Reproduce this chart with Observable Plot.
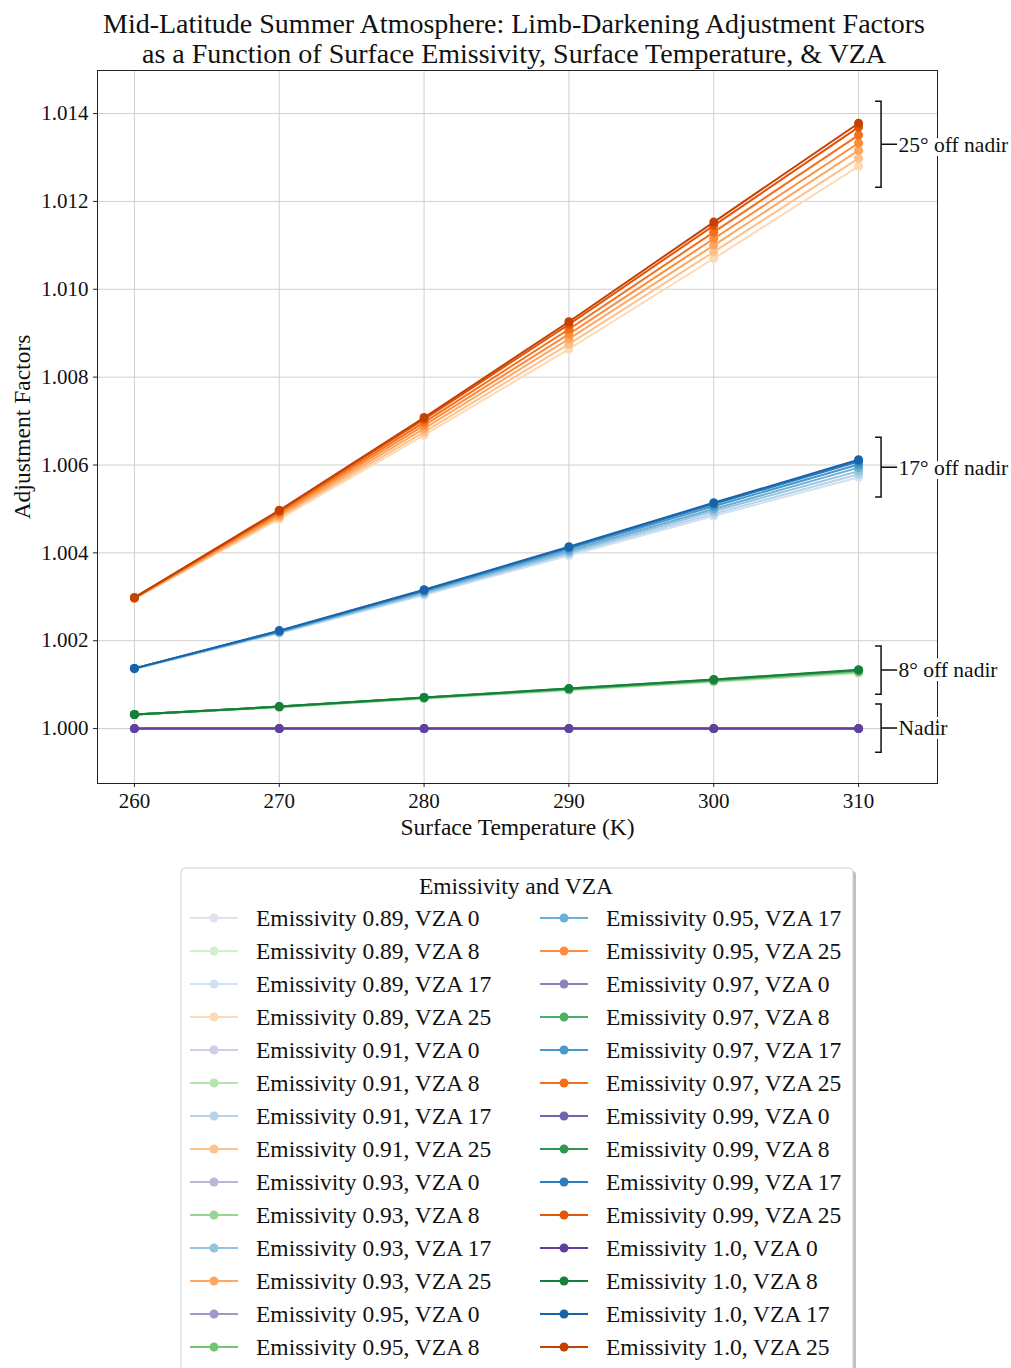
<!DOCTYPE html>
<html>
<head>
<meta charset="utf-8">
<script src="https://cdn.jsdelivr.net/npm/d3@7"></script>
<script src="https://cdn.jsdelivr.net/npm/@observablehq/plot@0.6"></script>
<style>
  html, body { margin: 0; padding: 0; background: #fff; }
  #page { position: relative; width: 1011px; height: 1368px; overflow: hidden; background: #fff;
          font-family: "Liberation Serif", "Times New Roman", serif; }
  #page svg { position: absolute; }
</style>
</head>
<body>
<div id="page"></div>
<script>
// ---------------- data ----------------
const titleLines = [
  "Mid-Latitude Summer Atmosphere: Limb-Darkening Adjustment Factors",
  "as a Function of Surface Emissivity, Surface Temperature, & VZA"
];
const xLabel = "Surface Temperature (K)";
const yLabel = "Adjustment Factors";
const legendTitle = "Emissivity and VZA";
const temperatures = [260, 270, 280, 290, 300, 310];
const emissivities = [0.89, 0.91, 0.93, 0.95, 0.97, 0.99, 1.0];
const emissivityLabels = ["0.89", "0.91", "0.93", "0.95", "0.97", "0.99", "1.0"];
const vzas = [0, 8, 17, 25];

// rows follow emissivities, columns follow temperatures
const vza0 = [
  [1.00000, 1.00000, 1.00000, 1.00000, 1.00000, 1.00000],
  [1.00000, 1.00000, 1.00000, 1.00000, 1.00000, 1.00000],
  [1.00000, 1.00000, 1.00000, 1.00000, 1.00000, 1.00000],
  [1.00000, 1.00000, 1.00000, 1.00000, 1.00000, 1.00000],
  [1.00000, 1.00000, 1.00000, 1.00000, 1.00000, 1.00000],
  [1.00000, 1.00000, 1.00000, 1.00000, 1.00000, 1.00000],
  [1.00000, 1.00000, 1.00000, 1.00000, 1.00000, 1.00000]
];
const vza8 = [
  [1.00031, 1.00048, 1.00068, 1.00087, 1.00106, 1.00126],
  [1.00032, 1.00049, 1.00069, 1.00088, 1.00107, 1.00127],
  [1.00032, 1.00049, 1.00069, 1.00089, 1.00108, 1.00129],
  [1.00032, 1.00049, 1.00070, 1.00089, 1.00109, 1.00130],
  [1.00032, 1.00050, 1.00070, 1.00090, 1.00110, 1.00132],
  [1.00032, 1.00050, 1.00071, 1.00091, 1.00111, 1.00133],
  [1.00032, 1.00050, 1.00071, 1.00091, 1.00112, 1.00134]
];
const vza17 = [
  [1.00136, 1.00217, 1.00304, 1.00394, 1.00484, 1.00572],
  [1.00136, 1.00218, 1.00306, 1.00398, 1.00489, 1.00579],
  [1.00136, 1.00219, 1.00308, 1.00401, 1.00495, 1.00586],
  [1.00137, 1.00220, 1.00311, 1.00405, 1.00500, 1.00594],
  [1.00137, 1.00221, 1.00313, 1.00409, 1.00506, 1.00601],
  [1.00137, 1.00222, 1.00315, 1.00412, 1.00511, 1.00608],
  [1.00137, 1.00223, 1.00316, 1.00414, 1.00514, 1.00612]
];
const vza25 = [
  [1.00296, 1.00477, 1.00668, 1.00864, 1.01070, 1.01280],
  [1.00296, 1.00481, 1.00675, 1.00875, 1.01085, 1.01298],
  [1.00297, 1.00484, 1.00683, 1.00887, 1.01100, 1.01316],
  [1.00297, 1.00488, 1.00690, 1.00898, 1.01115, 1.01333],
  [1.00298, 1.00492, 1.00697, 1.00909, 1.01130, 1.01351],
  [1.00298, 1.00495, 1.00704, 1.00920, 1.01145, 1.01369],
  [1.00298, 1.00497, 1.00708, 1.00926, 1.01153, 1.01378]
];
const valuesByVza = [vza0, vza8, vza17, vza25];

const xTicks = [260, 270, 280, 290, 300, 310];
const yTicks = [1.000, 1.002, 1.004, 1.006, 1.008, 1.010, 1.012, 1.014];

// bracket annotations (at the last temperature)
const annotationLabels = ["25° off nadir", "17° off nadir", "8° off nadir", "Nadir"];
const annotationCenters = [1.01329, 1.00594, 1.00132, 1.00000];
const annotationHalfSpans = [0.00098, 0.00068, 0.00055, 0.00055];

// ---------------- styles ----------------
const colormaps = [
  ["#fcfbfd","#efedf5","#dadaeb","#bcbddc","#9e9ac8","#807dba","#6a51a3","#54278f","#3f007d"], // Purples
  ["#f7fcf5","#e5f5e0","#c7e9c0","#a1d99b","#74c476","#41ab5d","#238b45","#006d2c","#00441b"], // Greens
  ["#f7fbff","#deebf7","#c6dbef","#9ecae1","#6baed6","#4292c6","#2171b5","#08519c","#08306b"], // Blues
  ["#fff5eb","#fee6ce","#fdd0a2","#fdae6b","#fd8d3c","#f16913","#d94801","#a63603","#7f2704"]  // Oranges
];
const shadePositions = [0.2, 0.3, 0.4, 0.5, 0.6, 0.7, 0.8];
const FONT = "'Liberation Serif', 'Times New Roman', serif";

// ---------------- build table ----------------
const series = [];
emissivities.forEach((e, ei) => {
  vzas.forEach((v, vi) => {
    const color = d3.piecewise(d3.interpolateRgb, colormaps[vi])(shadePositions[ei]);
    const label = `Emissivity ${emissivityLabels[ei]}, VZA ${v}`;
    const rows = temperatures.map((t, ti) => ({T: t, value: valuesByVza[vi][ei][ti], color, label}));
    series.push({label, color, rows});
  });
});
const annotations = annotationLabels.map((label, i) => ({
  label, x: temperatures[temperatures.length - 1], y: annotationCenters[i],
  lo: annotationCenters[i] - annotationHalfSpans[i], hi: annotationCenters[i] + annotationHalfSpans[i]
}));

const page = d3.select("#page");

// ---------------- title ----------------
const titleSvg = page.append("svg").attr("width", 1011).attr("height", 70)
  .style("left", "0px").style("top", "0px");
titleLines.forEach((t, i) => {
  titleSvg.append("text").attr("x", 514).attr("y", 33 + i * 30)
    .attr("text-anchor", "middle").attr("font-family", FONT).attr("font-size", 28)
    .attr("fill", "#111").text(t);
});

// ---------------- chart ----------------
function bracketMark(index, scales, values, dimensions, context) {
  const x = scales.x, y = scales.y;
  const g = d3.create("svg:g").attr("fill", "none").attr("stroke", "#111").attr("stroke-width", 1.5);
  for (const a of annotations) {
    const bx = x(a.x) + 23;
    const yt = y(a.hi), yb = y(a.lo), ym = y(a.y);
    g.append("path").attr("d", `M${bx - 6},${yt}H${bx}V${yb}H${bx - 6}M${bx},${ym}H${bx + 16}`);
  }
  return g.node();
}

const seriesMarks = series.flatMap(s => [
  Plot.line(s.rows, {x: "T", y: "value", stroke: "color", strokeWidth: 2}),
  Plot.dot(s.rows, {x: "T", y: "value", fill: "color", r: 4.5})
]);

const chart = Plot.plot({
  width: 1011,
  height: 790,
  marginLeft: 97,
  marginRight: 74,
  marginTop: 8,
  marginBottom: 69,
  style: {fontFamily: FONT, fontSize: "21px", background: "transparent", overflow: "visible", color: "#111"},
  x: {domain: [257.45, 315.45]},
  y: {domain: [0.99875, 1.01498]},
  color: {type: "identity"},
  marks: [
    Plot.gridX(xTicks, {stroke: "#cfcfcf", strokeOpacity: 1, strokeWidth: 1}),
    Plot.gridY(yTicks, {stroke: "#cfcfcf", strokeOpacity: 1, strokeWidth: 1}),
    Plot.frame({stroke: "#222", strokeWidth: 1}),
    Plot.axisX(xTicks, {tickFormat: d => String(d), tickSize: 4, tickPadding: 6, stroke: "#222",
      label: null, fontSize: 21}),
    Plot.axisY(yTicks, {tickFormat: d3.format(".3f"), tickSize: 4, tickPadding: 5, stroke: "#222",
      label: null, fontSize: 21}),
    Plot.text([xLabel], {frameAnchor: "bottom", text: d => d, dy: 51, lineAnchor: "bottom",
      textAnchor: "middle", fontSize: 23.5, fill: "#111"}),
    Plot.text([yLabel], {frameAnchor: "left", text: d => d, dx: -84, rotate: -90, lineAnchor: "top",
      textAnchor: "middle", fontSize: 23.5, fill: "#111"}),
    ...seriesMarks,
    Plot.text(annotations, {x: "x", y: "y", text: "label", dx: 40, textAnchor: "start",
      fill: "#111", stroke: "white", strokeWidth: 8, fontSize: 21.5}),
    bracketMark
  ]
});
d3.select(chart).style("left", "0px").style("top", "62px");
page.node().appendChild(chart);

// ---------------- legend ----------------
const legendSvg = page.append("svg").attr("width", 690).attr("height", 520)
  .style("left", "178px").style("top", "865px");
const L = {x: 3, y: 3, w: 672, h: 520};
legendSvg.append("rect").attr("x", L.x + 3).attr("y", L.y + 3).attr("width", L.w).attr("height", L.h)
  .attr("rx", 4).attr("fill", "#000").attr("fill-opacity", 0.25);
legendSvg.append("rect").attr("x", L.x).attr("y", L.y).attr("width", L.w).attr("height", L.h)
  .attr("rx", 4).attr("fill", "#fff").attr("stroke", "#d0d0d0").attr("stroke-width", 1);
legendSvg.append("text").attr("x", L.x + 335).attr("y", L.y + 26).attr("text-anchor", "middle")
  .attr("font-family", FONT).attr("font-size", 23.5).attr("fill", "#111").text(legendTitle);
const rowsPerCol = 14;
series.forEach((s, i) => {
  const col = Math.floor(i / rowsPerCol), row = i % rowsPerCol;
  const x0 = L.x + 9 + col * 350;
  const yc = L.y + 50 + row * 33;
  legendSvg.append("line").attr("x1", x0).attr("x2", x0 + 48).attr("y1", yc).attr("y2", yc)
    .attr("stroke", s.color).attr("stroke-width", 2);
  legendSvg.append("circle").attr("cx", x0 + 24).attr("cy", yc).attr("r", 4.5).attr("fill", s.color);
  legendSvg.append("text").attr("x", x0 + 66).attr("y", yc + 8)
    .attr("font-family", FONT).attr("font-size", 23.5).attr("fill", "#111").text(s.label);
});
</script>
</body>
</html>
